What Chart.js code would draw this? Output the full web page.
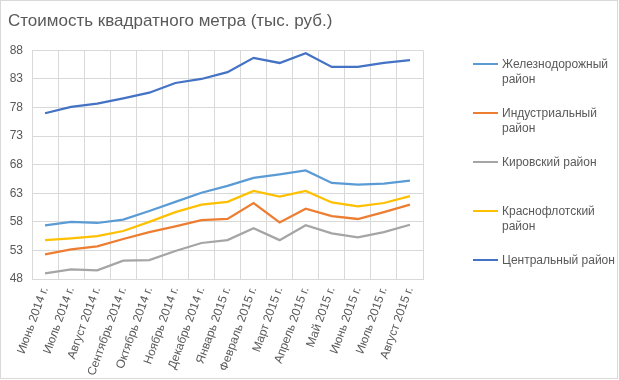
<!DOCTYPE html>
<html><head><meta charset="utf-8">
<script src="https://cdn.jsdelivr.net/npm/chart.js@4.4.1/dist/chart.umd.min.js"></script>
<style>
html,body{margin:0;padding:0;background:#fff;}
#wrap{position:relative;width:619px;height:380px;}
#frame{position:absolute;left:0;top:0;width:616px;height:377px;border:1px solid #d9d9d9;pointer-events:none;}
canvas{position:absolute;left:0;top:0;}
#legend{position:absolute;left:473px;top:0;font-family:"Liberation Sans",Arial,sans-serif;font-size:12px;color:#595959;}
.item{position:absolute;left:0;width:140px;}
.sw{position:absolute;left:0;top:6px;width:25px;height:2px;}
.tx{position:absolute;left:29px;top:0;line-height:15px;white-space:nowrap;}
</style></head><body>
<div id="wrap"><canvas id="c" width="619" height="380"></canvas><div id="legend"></div><div id="frame"></div></div>
<script>
const categories = ["Июнь 2014 г.","Июль 2014 г.","Август 2014 г.","Сентябрь 2014 г.","Октябрь 2014 г.","Ноябрь 2014 г.","Декабрь 2014 г.","Январь 2015 г.","Февраль 2015 г.","Март 2015 г.","Апрель 2015 г.","Май 2015 г.","Июнь 2015 г.","Июль 2015 г.","Август 2015 г."];
const zhelez = [57.4,58.0,57.8,58.4,59.9,61.5,63.1,64.3,65.7,66.3,67.0,64.8,64.5,64.7,65.2];
const industr = [52.3,53.2,53.7,55.0,56.2,57.2,58.3,58.5,61.3,57.9,60.3,59.0,58.5,59.7,61.0];
const kirov = [49.0,49.7,49.5,51.2,51.3,52.9,54.3,54.8,56.9,54.8,57.4,56.0,55.3,56.2,57.5];
const krasno = [54.8,55.1,55.5,56.4,58.0,59.7,61.0,61.5,63.4,62.4,63.4,61.4,60.7,61.3,62.5];
const central = [77.0,78.1,78.7,79.6,80.6,82.3,83.0,84.2,86.7,85.8,87.5,85.1,85.1,85.8,86.3];
const seriesNames = ["Железнодорожный район","Индустриальный район","Кировский район","Краснофлотский район","Центральный район"];
const legendLines = [["Железнодорожный","район"],["Индустриальный","район"],["Кировский район"],["Краснофлотский","район"],["Центральный район"]];
const colors = ["#5B9BD5","#ED7D31","#A5A5A5","#FFC000","#4472C4"];
const yTicks = [48,53,58,63,68,73,78,83,88];
const seriesData = [zhelez,industr,kirov,krasno,central];

const font = "'Liberation Sans', Arial, sans-serif";
const legendTops = [57,106,155,204,253];
const lg = document.getElementById('legend');
seriesNames.forEach((n,i)=>{
  const d=document.createElement('div');d.className='item';d.style.top=legendTops[i]+'px';
  d.innerHTML='<div class="sw" style="background:'+colors[i]+'"></div><div class="tx">'+legendLines[i].join('<br>')+'</div>';
  lg.appendChild(d);
});

new Chart(document.getElementById('c'),{
  type:'line',
  data:{labels:categories,datasets:seriesNames.map((n,i)=>({label:n,data:seriesData[i],borderColor:colors[i],backgroundColor:colors[i],borderWidth:2.25,pointRadius:0,tension:0,fill:false}))},
  options:{
    responsive:false,animation:false,
    layout:{padding:{left:8,right:196,top:0,bottom:0}},
    plugins:{
      legend:{display:false},tooltip:{enabled:false},
      title:{display:true,text:"Стоимость квадратного метра (тыс. руб.)",align:'start',color:'#595959',font:{family:font,size:17,weight:'normal'},padding:{top:11,bottom:19}}
    },
    scales:{
      x:{offset:true,grid:{offset:true,color:'#d9d9d9',drawTicks:false},border:{color:'#d9d9d9'},
        ticks:{autoSkip:false,maxRotation:70,minRotation:70,color:'#595959',font:{family:font,size:12},padding:6},
        afterFit:(s)=>{s.height=101;}},
      y:{min:48,max:88,grid:{color:'#d9d9d9',drawTicks:false},border:{display:false},
        afterBuildTicks:(s)=>{s.ticks=yTicks.map(v=>({value:v}));},
        ticks:{color:'#595959',font:{family:font,size:12},padding:9},
        afterFit:(s)=>{s.width=24;}}
    }
  }
});
</script></body></html>
